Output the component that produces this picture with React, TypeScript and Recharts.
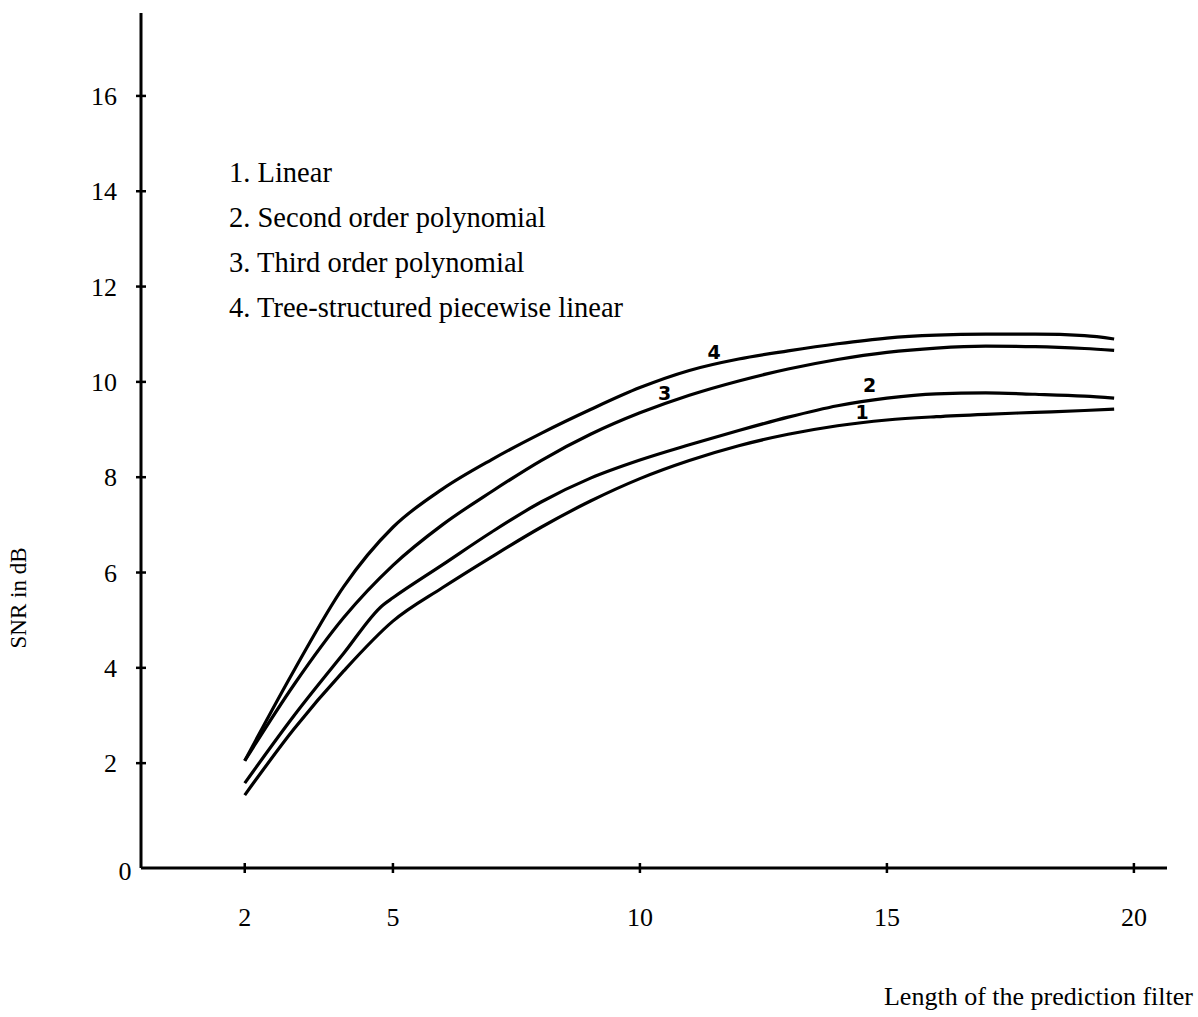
import { LineChart, Line, XAxis, YAxis, Legend, ReferenceDot } from "recharts"

const FONT = '"Liberation Serif", "Times New Roman", serif'

// filter length (taps); 4.8 only carries the knee of the 2nd-order curve
const FILTER_LEN = [2, 3, 4, 4.8, 5, 6, 7, 8, 9, 10, 11, 12, 13, 14, 15, 16, 17, 18, 19, 19.6]

// SNR in dB for each predictor
const SNR_LINEAR = [1.33, 2.72, 3.93, null, 4.98, 5.68, 6.33, 6.95, 7.5, 7.97, 8.35, 8.66, 8.9, 9.08, 9.2, 9.27, 9.32, 9.36, 9.4, 9.43]
const SNR_POLY2 = [1.58, 3.0, 4.3, 5.32, 5.47, 6.16, 6.85, 7.48, 7.98, 8.36, 8.68, 8.98, 9.26, 9.5, 9.66, 9.75, 9.77, 9.74, 9.7, 9.66]
const SNR_POLY3 = [2.05, 3.65, 5.05, null, 6.15, 7.0, 7.7, 8.35, 8.9, 9.35, 9.72, 10.02, 10.27, 10.47, 10.62, 10.71, 10.75, 10.74, 10.7, 10.66]
const SNR_TREE = [2.05, 3.95, 5.7, null, 6.95, 7.75, 8.37, 8.92, 9.42, 9.88, 10.24, 10.48, 10.65, 10.8, 10.92, 10.98, 11.0, 11.0, 10.97, 10.9]

const X_TICKS = [0, 2, 5, 10, 15, 20]
const Y_TICKS = [2, 4, 6, 8, 10, 12, 14, 16]

const SERIES = [
  { key: "linear", name: "1. Linear", values: SNR_LINEAR },
  { key: "poly2", name: "2. Second order polynomial", values: SNR_POLY2 },
  { key: "poly3", name: "3. Third order polynomial", values: SNR_POLY3 },
  { key: "tree", name: "4. Tree-structured piecewise linear", values: SNR_TREE },
]

// small hand-written numbers next to the curves
const CURVE_TAGS = [
  { text: "4", x: 11.5, y: 10.63 },
  { text: "3", x: 10.5, y: 9.77 },
  { text: "2", x: 14.65, y: 9.92 },
  { text: "1", x: 14.5, y: 9.36 },
]

const data = FILTER_LEN.map((x, i) => {
  const row: Record<string, number | null> = { x }
  SERIES.forEach((s) => (row[s.key] = s.values[i]))
  return row
})

function YTick({ x, y, payload }: any) {
  return (
    <g>
      <line x1={x - 5} x2={x + 5} y1={y} y2={y} stroke="#000" strokeWidth={2.5} />
      <text x={x - 24} y={y + 9} textAnchor="end" fontFamily={FONT} fontSize={26} fill="#000">
        {payload.value}
      </text>
    </g>
  )
}

function XTick({ x, y, payload }: any) {
  if (payload.value === 0) {
    return (
      <text x={x - 21} y={y + 12} textAnchor="middle" fontFamily={FONT} fontSize={26} fill="#000">
        0
      </text>
    )
  }
  return (
    <g>
      <line x1={x} x2={x} y1={y - 5} y2={y + 5} stroke="#000" strokeWidth={2.5} />
      <text x={x} y={y + 58} textAnchor="middle" fontFamily={FONT} fontSize={26} fill="#000">
        {payload.value}
      </text>
    </g>
  )
}

function LegendList({ payload }: any) {
  return (
    <div style={{ fontFamily: FONT, fontSize: 28.5, lineHeight: "45px", color: "#000", whiteSpace: "nowrap" }}>
      {(payload || []).map((p: any) => (
        <div key={p.value}>{p.value}</div>
      ))}
    </div>
  )
}

export default function App() {
  return (
    <div style={{ background: "#fff", width: 1198, height: 1017 }}>
      <style>{`body { margin: 0; }`}</style>
      <LineChart width={1198} height={1017} data={data} margin={{ top: 13, right: 31, bottom: 148, left: 140 }}>
        <XAxis
          type="number"
          dataKey="x"
          domain={[-0.1, 20.67]}
          ticks={X_TICKS}
          interval={0}
          allowDataOverflow
          height={1}
          tickSize={0}
          tickMargin={0}
          tick={<XTick />}
          axisLine={{ stroke: "#000", strokeWidth: 3 }}
          label={({ viewBox }: any) => (
            <text
              x={viewBox.x + viewBox.width + 26}
              y={viewBox.y + 137}
              textAnchor="end"
              fontFamily={FONT}
              fontSize={26}
              fill="#000"
            >
              Length of the prediction filter
            </text>
          )}
        />
        <YAxis
          type="number"
          domain={[-0.2, 17.74]}
          ticks={Y_TICKS}
          interval={0}
          allowDataOverflow
          width={1}
          tickSize={0}
          tickMargin={0}
          tick={<YTick />}
          axisLine={{ stroke: "#000", strokeWidth: 3 }}
          label={({ viewBox }: any) => (
            <text
              transform={`translate(${viewBox.x - 122}, ${viewBox.y + 585}) rotate(-90)`}
              textAnchor="middle"
              dominantBaseline="central"
              fontFamily={FONT}
              fontSize={23}
              fill="#000"
            >
              SNR in dB
            </text>
          )}
        />
        <Legend
          content={<LegendList />}
          layout="vertical"
          align="center"
          verticalAlign="middle"
          wrapperStyle={{ left: 229, top: 150, width: "auto" }}
        />
        {SERIES.map((s) => (
          <Line
            key={s.key}
            dataKey={s.key}
            name={s.name}
            type="monotone"
            stroke="#000"
            strokeWidth={3.2}
            dot={false}
            connectNulls
            isAnimationActive={false}
          />
        ))}
        {CURVE_TAGS.map((t) => (
          <ReferenceDot
            key={t.text}
            x={t.x}
            y={t.y}
            r={1}
            fill="none"
            stroke="none"
            label={{ value: t.text, position: "center", fontSize: 19, fontWeight: "bold", fontFamily: "DejaVu Sans", fill: "#000" }}
          />
        ))}
      </LineChart>
    </div>
  )
}
